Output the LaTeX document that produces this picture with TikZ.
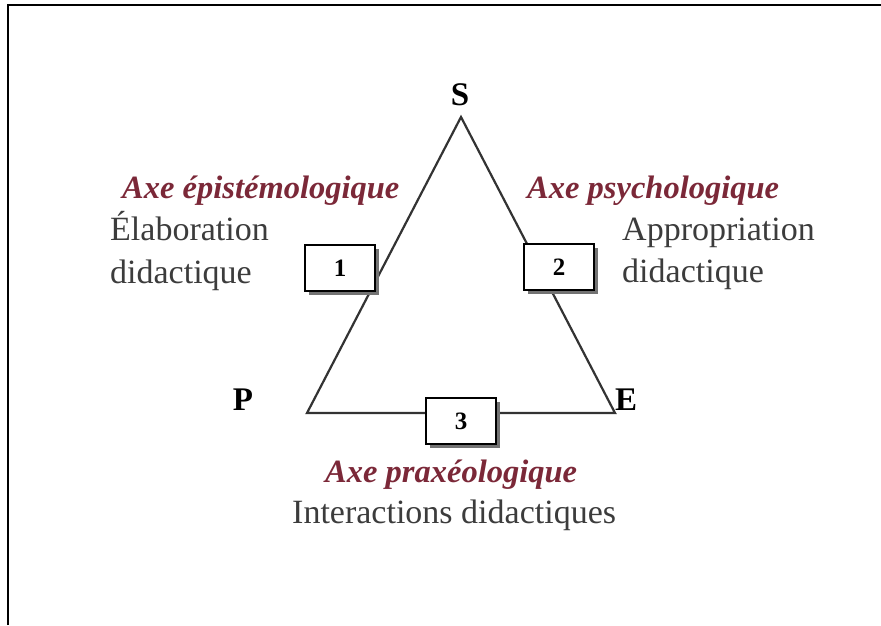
\documentclass[tikz,border=0pt]{standalone}
\usepackage{fontspec}
\setmainfont{Liberation Serif}
\usetikzlibrary{shadows}

\definecolor{axered}{HTML}{7B2838}
\definecolor{textgray}{HTML}{3C3C3C}

\begin{document}
\begin{tikzpicture}[x=1pt, y=-1pt,
		axe/.style={anchor=base west, inner sep=0pt, text=axered, font=\fontsize{32.5}{36}\selectfont\bfseries\itshape},
		desc/.style={anchor=base west, inner sep=0pt, text=textgray, font=\fontsize{34}{38}\selectfont},
		sommet/.style={anchor=base, inner sep=0pt, font=\fontsize{33}{36}\selectfont\bfseries},
		numbox/.style={draw=black, line width=2pt, fill=white, minimum width=70pt, minimum height=46pt,
			font=\fontsize{25}{28}\selectfont\bfseries, drop shadow={shadow xshift=3.5pt, shadow yshift=-3.5pt, fill=black!55, opacity=1}}]
		% 1. Page size and frame (top and left only)
		\useasboundingbox (0,0) rectangle (881,625);
		\draw[line width=2pt] (8,625) -- (8,5) -- (881,5);

		% 2. Vertices of the triangle
		\coordinate (vS) at (461,117);
		\coordinate (vP) at (307,413);
		\coordinate (vE) at (615,413);
		\draw[line width=2.2pt, black!80] (vS) -- (vP) -- (vE) -- cycle;

		% 3. Vertex letters
		\node[sommet] (lblS) at (460,105) {S};
		\node[sommet] (lblP) at (243,410) {P};
		\node[sommet, anchor=base west] (lblE) at (615,410) {E};

		% 4. Numbered boxes on each side
		\node[numbox] (box1) at (340,268) {1};
		\node[numbox] (box2) at (559,267) {2};
		\node[numbox] (box3) at (461,421) {3};

		% 5. Axis titles and descriptions
		% left side
		\node[axe] (axeEpi) at (122,198) {Axe épistémologique};
		\node[desc] (elab1) at (110,240) {Élaboration};
		\node[desc] (elab2) at (110,283) {didactique};
		% right side
		\node[axe] (axePsy) at (527,198) {Axe psychologique};
		\node[desc] (appr1) at (622,240) {Appropriation};
		\node[desc] (appr2) at (622,282) {didactique};
		% bottom
		\node[axe] (axePra) at (325,482) {Axe praxéologique};
		\node[desc] (inter) at (292,523) {Interactions didactiques};
	\end{tikzpicture}
\end{document}
